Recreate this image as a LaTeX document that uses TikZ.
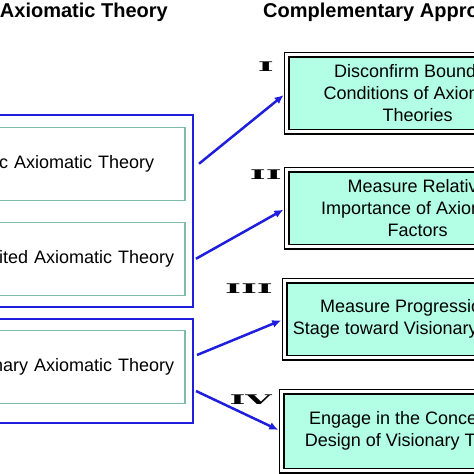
\documentclass[tikz,border=0pt]{standalone}
\usepackage{fontspec}
\setmainfont{Liberation Sans}
\newfontfamily\numfont{DejaVu Serif}
\usetikzlibrary{arrows.meta}
\definecolor{linkBlue}{HTML}{1E1EDC}
\definecolor{theoryStroke}{HTML}{7DBFA5}
\definecolor{approachFill}{HTML}{B2FFE5}

\begin{document}
\begin{tikzpicture}[x=1pt,y=-1pt,
  font=\fontsize{18}{22}\selectfont,
  group/.style={rectangle,draw=linkBlue,line width=2pt,minimum width=260pt,anchor=north east},
  theory/.style={rectangle,draw=theoryStroke,line width=1.5pt,minimum height=73pt,text width=300pt,align=right,inner ysep=0pt,anchor=north east},
  approach/.style={rectangle,draw=black,line width=1.4pt,double=white,double distance=3pt,fill=approachFill,minimum width=262pt,align=center,inner sep=0pt,anchor=north west},
  numeral/.style={font=\numfont\bfseries\fontsize{17}{17}\selectfont,inner sep=0pt,anchor=east},
  title/.style={font=\bfseries\fontsize{20}{24}\selectfont,inner sep=0pt},
  link/.style={-{Latex[length=9pt,width=8pt]},line width=2.5pt,draw=linkBlue,shorten >=3pt}
]
\useasboundingbox (0,0) rectangle (474,474);
\clip (0,0) rectangle (474,474);
% The picture is a cut-out: boxes and texts run past its edges.
\node[title,anchor=base east] (lefttitle) at (168,17.5) {Axiomatic Theory};
\node[title,anchor=base west] (righttitle) at (263,17.5) {Complementary Approaches};
\node[group,minimum height=192pt] (outerA) at (194,114) {};
\node[group,minimum height=104pt] (outerB) at (194,318) {};
\node[theory,inner xsep=30.5pt] (basic) at (185.5,126.5) {Basic Axiomatic Theory};
\node[theory,inner xsep=10.5pt] (limited) at (185.5,221.5) {Unlimited Axiomatic Theory};
\node[theory,inner xsep=10.5pt] (visionary) at (185.5,329.5) {Visionary Axiomatic Theory};
\node[approach,minimum height=77pt] (disconfirm) at (286,54) {Disconfirm Boundary\\Conditions of Axiomatic\\Theories};
\node[approach,minimum height=77pt] (relative) at (286,169) {Measure Relative\\Importance of Axiomatic\\Factors};
\node[approach,minimum height=77pt] (progress) at (284,280) {Measure Progression of\\Stage toward Visionary Theory};
\node[approach,minimum height=79pt] (engage) at (281,391) {Engage in the Conceptual\\Design of Visionary Theory};
\node[numeral] (numI) at (274,66.5) {\scalebox{2.0}[0.78]{I}};
\node[numeral] (numII) at (282,174.5) {\scalebox{2.0}[0.78]{II}};
\node[numeral] (numIII) at (273,288.5) {\scalebox{2.0}[0.78]{III}};
\node[numeral] (numIV) at (272,399.5) {\scalebox{2.0}[0.78]{IV}};
\draw[link] ([xshift=5pt]outerA.east |- basic.east) -- (disconfirm.west);
\draw[link] ([xshift=2pt]outerA.east |- limited.east) -- (relative.west);
\draw[link] ([xshift=3pt,yshift=16pt]outerB.east) -- (progress.west);
\draw[link] ([xshift=2pt,yshift=-20pt]outerB.east) -- (engage.west);
\end{tikzpicture}
\end{document}
